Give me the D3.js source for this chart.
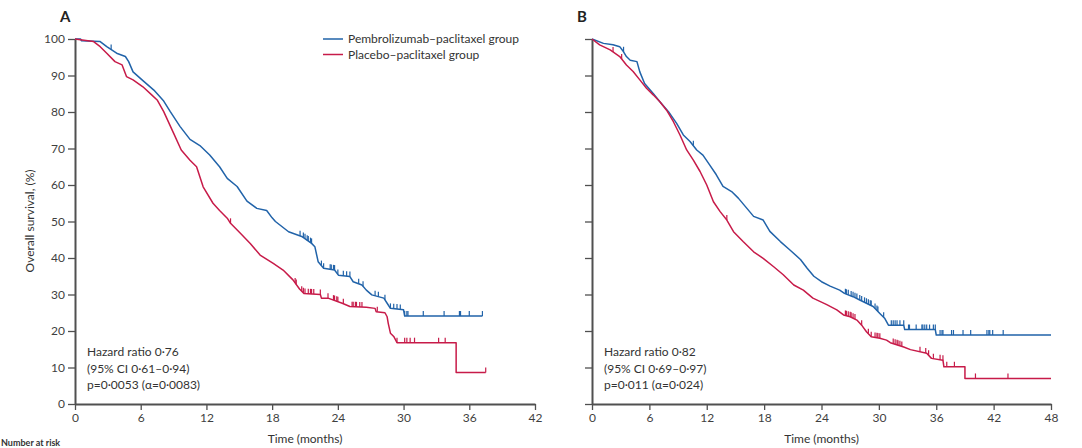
<!DOCTYPE html>
<html><head><meta charset="utf-8">
<script src="https://cdn.jsdelivr.net/npm/d3@7"></script>
<style>
html,body{margin:0;padding:0;background:#fff;overflow:hidden}
text{font-family:Lato,"Open Sans",sans-serif;fill:#3a3a3a}
</style></head><body>
<svg id="chart" width="1082" height="448"></svg>
<script>
// ---- data ----
const yTicks = [0,10,20,30,40,50,60,70,80,90,100];
const xTicksA = [0,6,12,18,24,30,36,42];
const xTicksB = [0,6,12,18,24,30,36,42,48];
const seriesNames = ["Pembrolizumab–paclitaxel group","Placebo–paclitaxel group"];

const pembroA = [[0,100],[0.5,100],[0.6,99.5],[2.3,99.3],[2.9,97.9],[3.8,96.1],[4.6,95.2],[4.9,93.8],[5.3,91.0],[6.2,88.6],[7.2,86.0],[8.1,83.0],[8.7,80.1],[9.6,76.0],[10.5,72.5],[11.4,70.8],[12.3,68.2],[13.2,65.0],[13.9,61.8],[14.8,59.6],[15.7,55.6],[16.6,53.6],[17.5,53.0],[18.0,51.0],[18.3,50.0],[19.5,47.2],[20.7,45.9],[21.6,44.0],[21.9,43.1],[22.2,39.0],[22.7,37.2],[23.7,36.7],[24.05,35.3],[25.1,34.9],[25.4,33.5],[26.2,32.6],[26.6,31.2],[27.1,29.9],[28.2,29.0],[28.5,27.6],[28.8,26.2],[30.0,25.8],[30.1,24.1],[37.2,24.1]];
const placeboA = [[0,100],[1.0,99.6],[1.7,99.3],[2.3,97.9],[2.9,96.1],[3.65,93.8],[4.3,92.9],[4.7,89.7],[5.3,88.8],[6.2,86.9],[7.0,84.7],[7.5,83.3],[8.1,80.1],[9.0,74.2],[9.7,69.6],[10.5,66.8],[11.1,65.0],[11.7,59.5],[12.6,55.0],[13.2,53.0],[13.9,50.9],[14.2,49.5],[15.1,46.8],[16.0,44.0],[16.9,40.8],[18.1,38.5],[19.0,36.7],[19.9,34.0],[20.5,31.5],[20.9,30.3],[22.4,30.0],[22.5,29.0],[23.1,29.0],[24.4,27.6],[25.1,26.7],[26.6,26.5],[27.4,26.2],[27.5,25.3],[28.3,25.0],[28.5,23.9],[28.6,22.1],[28.8,19.4],[29.1,18.5],[29.4,16.8],[34.8,16.8],[34.8,8.6],[37.5,8.6]];
const pembroB = [[0,100],[1.2,98.8],[2.2,98.4],[2.9,97.9],[3.3,96.5],[3.6,95.2],[4.0,94.2],[4.7,93.8],[5.0,91.0],[5.5,87.8],[6.4,85.1],[7.1,82.8],[8.0,80.1],[8.85,76.9],[9.55,73.7],[10.25,71.9],[10.95,69.6],[11.6,68.2],[12.3,65.5],[13.0,62.8],[13.7,59.6],[14.6,58.2],[15.3,56.4],[16.2,53.6],[16.9,51.4],[17.9,50.4],[18.6,47.3],[19.7,44.5],[20.7,42.2],[21.8,39.6],[22.5,37.2],[23.2,35.0],[24.0,33.5],[24.9,32.3],[25.9,31.2],[26.4,30.3],[27.3,29.4],[28.0,28.5],[28.7,27.6],[29.4,26.7],[30.1,24.8],[30.6,23.5],[31.0,21.6],[32.6,21.6],[32.7,20.4],[35.9,20.4],[36.0,18.9],[48,18.9]];
const placeboB = [[0,100],[0.8,98.4],[1.9,97.0],[2.9,95.2],[3.6,92.9],[4.3,91.1],[5.0,88.8],[5.7,86.5],[6.4,84.7],[7.1,82.8],[7.8,80.5],[8.5,77.4],[9.2,73.7],[9.9,69.6],[10.6,66.8],[11.3,63.7],[12.0,60.0],[12.7,55.4],[13.4,52.7],[14.1,50.4],[14.8,47.2],[15.8,44.5],[16.9,41.7],[17.9,39.9],[19.0,37.6],[20.0,35.4],[21.1,32.6],[22.1,31.2],[23.1,29.0],[24.5,27.3],[25.6,25.8],[26.3,24.4],[27.0,23.9],[27.7,23.0],[28.2,21.6],[28.7,19.8],[29.2,18.4],[30.1,18.0],[30.8,17.5],[31.2,16.8],[32.6,15.6],[33.3,14.9],[35.0,13.9],[35.5,12.5],[36.7,12.0],[36.8,10.2],[39.0,10.2],[39.0,7.0],[48,7.0]];

const censorPembroA = [3.3,20.55,20.85,21.0,21.2,21.3,21.5,21.6,22.5,22.7,23.3,23.4,23.6,23.7,24.0,24.5,24.8,25.1,25.9,26.3,27.4,27.7,28.3,28.8,29.1,29.4,29.7,30.1,30.3,30.4,31.8,33.7,35.1,35.2,36.0,37.2];
const censorPlaceboA = [14.2,20.1,20.2,20.7,20.85,21.0,21.3,21.5,21.6,21.8,22.4,23.1,23.6,23.7,23.9,24.0,24.5,25.3,25.4,25.6,25.7,26.0,26.2,27.6,29.4,30.1,30.3,30.6,31.0,33.2,33.8,37.5];
const censorPembroB = [3.3,10.6,26.5,26.6,26.8,27.1,27.3,27.5,27.7,28.0,28.2,28.5,28.7,28.9,29.1,29.2,29.6,29.8,29.9,30.5,31.3,31.5,31.7,31.9,32.2,32.6,33.1,33.2,33.9,34.5,34.6,34.8,35.0,35.3,35.7,35.9,36.4,36.6,36.7,37.6,37.8,38.8,39.6,41.3,41.5,41.6,41.9,43.0];
const censorPlaceboB = [2.2,3.1,14.1,26.5,26.6,26.8,27.0,27.1,27.3,27.5,28.2,28.9,29.2,29.6,29.8,29.9,30.1,31.5,31.7,31.9,32.0,32.2,32.4,34.3,34.9,35.2,35.7,36.4,36.7,37.1,37.9,40.1,43.5];

const statsA = ["Hazard ratio 0·76","(95% CI 0·61–0·94)","p=0·0053 (α=0·0083)"];
const statsB = ["Hazard ratio 0·82","(95% CI 0·69–0·97)","p=0·011 (α=0·024)"];

// ---- drawing ----
const BLUE = "#2163a9", RED = "#c71b49", AXIS = "#505050";
const svg = d3.select("#chart");

function valueAt(curve, t){
  for (let i = curve.length - 1; i >= 0; i--) {
    if (curve[i][0] <= t) {
      if (i === curve.length - 1) return curve[i][1];
      const a = curve[i], b = curve[i+1];
      if (b[0] === a[0]) return b[1];
      return a[1] + (b[1]-a[1]) * (t - a[0]) / (b[0]-a[0]);
    }
  }
  return curve[0][1];
}

function panel(opts){
  const x = d3.scaleLinear().domain([0, opts.xMax]).range([opts.x0, opts.x1]);
  const y = d3.scaleLinear().domain([0, 100]).range([404, 39]);
  const g = svg.append("g");

  const yAxis = d3.axisLeft(y).tickValues(yTicks).tickSize(7).tickSizeOuter(0).tickPadding(3);
  if (!opts.yLabels) yAxis.tickFormat("");
  const ya = g.append("g").attr("transform", `translate(${opts.x0},0)`).call(yAxis);
  const xa = g.append("g").attr("transform", `translate(0,404)`)
    .call(d3.axisBottom(x).tickValues(opts.xTicks).tickSize(6).tickSizeOuter(0).tickPadding(3));
  [ya, xa].forEach(a => {
    a.select(".domain").attr("stroke", AXIS).attr("stroke-width", 2);
    a.selectAll(".tick line").attr("stroke", AXIS).attr("stroke-width", 1.3);
    a.selectAll(".tick text").attr("font-size", 12).style("fill", "#3f3f3f")
      .attr("font-family", "Lato, sans-serif");
  });

  const line = d3.line().x(d => x(d[0])).y(d => y(d[1])).curve(d3.curveLinear);
  opts.series.forEach(s => {
    g.append("path").datum(s.data).attr("d", line)
      .attr("fill", "none").attr("stroke", s.color).attr("stroke-width", 1.5)
      .attr("stroke-linejoin", "round");
    g.selectAll(null).data(s.censor).enter().append("line")
      .attr("x1", t => x(t)).attr("x2", t => x(t))
      .attr("y1", t => y(valueAt(s.data, t)))
      .attr("y2", t => y(valueAt(s.data, t)) - 5)
      .attr("stroke", s.color).attr("stroke-width", 1.2);
  });

  g.append("text").attr("x", opts.x0 - 15).attr("y", 22).text(opts.label)
    .attr("font-size", 15).attr("font-weight", "bold").style("fill", "#222");

  const st = g.append("text").attr("x", opts.x0 + 12).attr("font-size", 12).style("fill", "#333");
  opts.stats.forEach((s, i) => st.append("tspan").attr("x", opts.x0 + 12).attr("y", 356 + i*16.5).text(s));

  g.append("text").attr("x", (opts.x0 + opts.x1)/2).attr("y", 443).attr("text-anchor", "middle")
    .attr("font-size", 12).style("fill", "#333").text("Time (months)");
}

panel({x0:75, x1:535, xMax:42, xTicks:xTicksA, yLabels:true, label:"A", stats:statsA,
  series:[{data:pembroA, censor:censorPembroA, color:BLUE},{data:placeboA, censor:censorPlaceboA, color:RED}]});
panel({x0:592, x1:1051, xMax:48, xTicks:xTicksB, yLabels:false, label:"B", stats:statsB,
  series:[{data:pembroB, censor:censorPembroB, color:BLUE},{data:placeboB, censor:censorPlaceboB, color:RED}]});

// y-axis title
svg.append("text").attr("transform", "translate(34,221) rotate(-90)").attr("text-anchor", "middle")
  .attr("font-size", 12).style("fill", "#333").text("Overall survival, (%)");

// legend
const leg = svg.append("g");
[BLUE, RED].forEach((c, i) => {
  leg.append("line").attr("x1", 323).attr("x2", 343).attr("y1", 39 + i*15.5).attr("y2", 39 + i*15.5)
    .attr("stroke", c).attr("stroke-width", 1.5);
  leg.append("text").attr("x", 348).attr("y", 43 + i*15.5).attr("font-size", 12)
    .style("fill", "#333").text(seriesNames[i]);
});

// "Number at risk" heading at the bottom-left edge (kept inside the frame)
svg.append("text").attr("x", 1).attr("y", 446)
  .attr("font-size", 9).attr("font-weight", "bold").style("fill", "#333").text("Number at risk");
</script>
</body></html>
